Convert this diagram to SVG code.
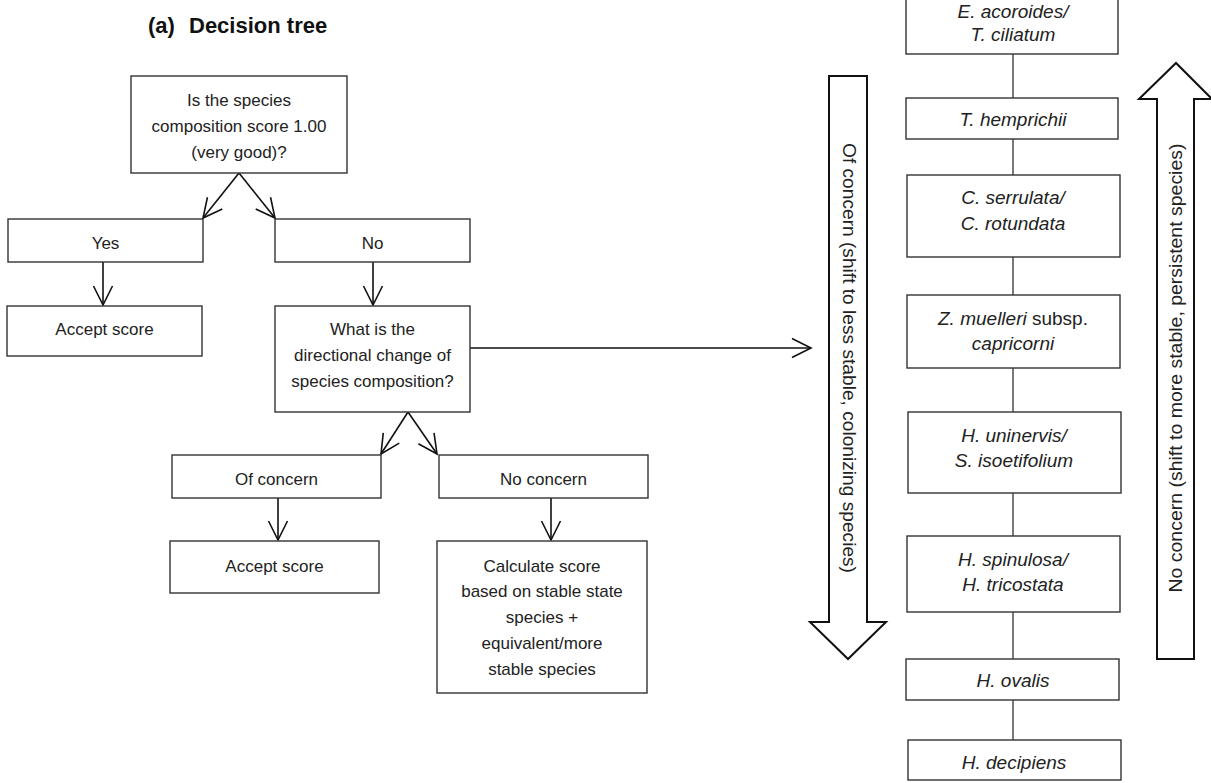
<svg xmlns="http://www.w3.org/2000/svg" width="1211" height="783" viewBox="0 0 1211 783">
<style>
.box{fill:#fff;stroke:#333;stroke-width:1.4}
.t{font-family:"Liberation Sans",Arial,sans-serif;font-size:17px;fill:#222;text-anchor:middle}
.s{font-size:19px}
.r{font-size:18px}
.i{font-style:italic}
.title{font-family:"Liberation Sans",Arial,sans-serif;font-size:22px;font-weight:bold;fill:#111}
.c{stroke:#111;stroke-width:1.6;fill:none}
.a{marker-end:url(#ah)}
.l{stroke:#333;stroke-width:1.3;fill:none}
.big{fill:#fff;stroke:#111;stroke-width:2}
</style>
<defs>
<marker id="ah" markerUnits="userSpaceOnUse" markerWidth="24" markerHeight="24" viewBox="-20 -12 24 24" refX="0" refY="0" orient="auto">
<path d="M-19,-9.5 L0,0 L-19,9.5" fill="none" stroke="#111" stroke-width="1.6"/>
</marker>
</defs>
<rect width="1211" height="783" fill="#fff"/>
<text class="title" x="148" y="33">(a)</text>
<text class="title" x="189" y="33">Decision tree</text>

<g id="connectors">
<path class="c a" d="M239,173 L203,218"/>
<path class="c a" d="M239,173 L275,218"/>
<path class="c a" d="M103,262 V305"/>
<path class="c a" d="M373,262 V305"/>
<path class="c a" d="M470,348 H811"/>
<path class="c a" d="M408,412 L381,454"/>
<path class="c a" d="M408,412 L437,454"/>
<path class="c a" d="M278,498 V540"/>
<path class="c a" d="M551,498 V540"/>
<path class="l" d="M1013,54 V98 M1013,139 V175 M1013,257 V295 M1013,368 V412 M1013,493 V536 M1013,612 V659 M1013,700 V740"/>
</g>

<g id="q1"><rect class="box" x="131" y="76" width="216" height="97"/>
<text class="t" x="239" y="106">Is the species</text>
<text class="t" x="239" y="132">composition score 1.00</text>
<text class="t" x="239" y="158">(very good)?</text></g>
<g id="yes"><rect class="box" x="8" y="219" width="195" height="43"/><text class="t" x="105.5" y="249">Yes</text></g>
<g id="no"><rect class="box" x="275" y="219" width="195" height="43"/><text class="t" x="372.5" y="249">No</text></g>
<g id="accept1"><rect class="box" x="7" y="306" width="195" height="50"/><text class="t" x="104.5" y="335">Accept score</text></g>
<g id="q2"><rect class="box" x="275" y="306" width="195" height="106"/>
<text class="t" x="372.5" y="335">What is the</text>
<text class="t" x="372.5" y="361">directional change of</text>
<text class="t" x="372.5" y="387">species composition?</text></g>
<g id="ofconcern"><rect class="box" x="172" y="455" width="209" height="43"/><text class="t" x="276.5" y="485">Of concern</text></g>
<g id="noconcern"><rect class="box" x="439" y="455" width="209" height="43"/><text class="t" x="543.5" y="485">No concern</text></g>
<g id="accept2"><rect class="box" x="170" y="541" width="209" height="52"/><text class="t" x="274.5" y="572">Accept score</text></g>
<g id="calc"><rect class="box" x="437" y="541" width="210" height="152"/>
<text class="t" x="542" y="572">Calculate score</text>
<text class="t" x="542" y="597">based on stable state</text>
<text class="t" x="542" y="623">species +</text>
<text class="t" x="542" y="649">equivalent/more</text>
<text class="t" x="542" y="675">stable species</text></g>

<g id="ea"><rect class="box" x="906" y="-18" width="212" height="72"/>
<text class="t s i" x="1013" y="18">E. acoroides/</text>
<text class="t s i" x="1013" y="41">T. ciliatum</text></g>
<g id="th"><rect class="box" x="906" y="98" width="212" height="41"/><text class="t s i" x="1013" y="126">T. hemprichii</text></g>
<g id="cs"><rect class="box" x="907" y="175" width="213" height="82"/>
<text class="t s i" x="1013" y="204">C. serrulata/</text>
<text class="t s i" x="1013" y="230">C. rotundata</text></g>
<g id="zm"><rect class="box" x="907" y="295" width="213" height="73"/>
<text class="t s" x="1013" y="325"><tspan class="i">Z. muelleri</tspan> subsp.</text>
<text class="t s i" x="1013" y="350">capricorni</text></g>
<g id="hu"><rect class="box" x="908" y="412" width="213" height="81"/>
<text class="t s i" x="1014" y="442">H. uninervis/</text>
<text class="t s i" x="1014" y="467">S. isoetifolium</text></g>
<g id="hs"><rect class="box" x="907" y="536" width="213" height="76"/>
<text class="t s i" x="1013" y="566">H. spinulosa/</text>
<text class="t s i" x="1013" y="591">H. tricostata</text></g>
<g id="ho"><rect class="box" x="906" y="659" width="213" height="41"/><text class="t s i" x="1013" y="687">H. ovalis</text></g>
<g id="hd"><rect class="box" x="908" y="740" width="213" height="40"/><text class="t s i" x="1014" y="769">H. decipiens</text></g>

<g id="down-arrow">
<path class="big" d="M829,76 H867 V622 H886 L848,659 L810,622 H829 Z"/>
<text class="t r" transform="translate(842.5,358) rotate(90)" textLength="430" lengthAdjust="spacingAndGlyphs">Of concern (shift to less stable, colonizing species)</text>
</g>
<g id="up-arrow">
<path class="big" d="M1157,659 H1194 V99 H1212 L1176,63 L1139,99 H1157 Z"/>
<text class="t r" transform="translate(1182,368) rotate(-90)" textLength="449" lengthAdjust="spacingAndGlyphs">No concern (shift to more stable, persistent species)</text>
</g>
</svg>
